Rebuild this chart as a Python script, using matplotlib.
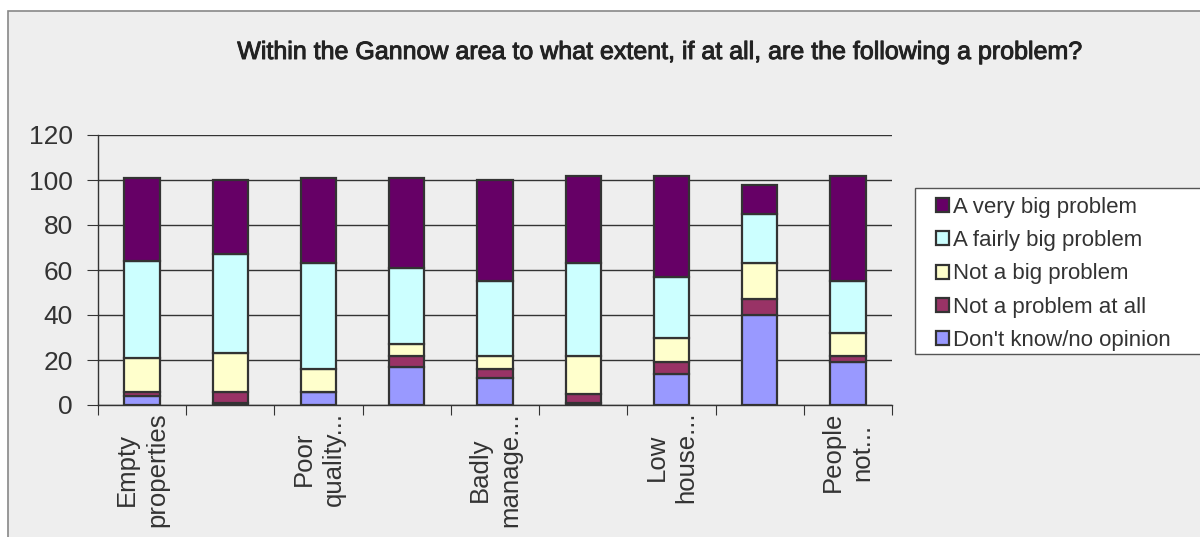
import matplotlib
matplotlib.use('Agg')
import matplotlib.pyplot as plt
import matplotlib.patheffects as pe
import numpy as np
from matplotlib.patches import Rectangle

plt.rcParams['font.family'] = ['Liberation Sans', 'DejaVu Sans']

categories = ['Empty\nproperties', '', 'Poor\nquality...', '', 'Badly\nmanage...',
              '', 'Low\nhouse...', '', 'People\nnot...']
dont_know = [4, 1, 6, 17, 12, 1, 14, 40, 19]
not_at_all = [2, 5, 0, 5, 4, 4, 5, 7, 3]
not_big = [15, 17, 10, 5, 6, 17, 11, 16, 10]
fairly_big = [43, 44, 47, 34, 33, 41, 27, 22, 23]
very_big = [37, 33, 38, 40, 45, 39, 45, 13, 47]

series = [
    ('Don\'t know/no opinion', dont_know, '#9999ff'),
    ('Not a problem at all', not_at_all, '#993366'),
    ('Not a big problem', not_big, '#ffffcc'),
    ('A fairly big problem', fairly_big, '#ccffff'),
    ('A very big problem', very_big, '#660066'),
]

fig = plt.figure(figsize=(12, 5.37), dpi=100, facecolor='white')
fig.patches.append(Rectangle((8 / 1200, -0.01), 1.0, 1 - 11 / 537 + 0.01,
                             transform=fig.transFigure, facecolor='#eeeeee',
                             edgecolor='#888888', linewidth=1.2, zorder=-1))
ax = fig.add_axes([98 / 1200, 1 - 405 / 537, (892 - 98) / 1200, 270 / 537])
ax.set_facecolor('#eeeeee')

x = np.arange(len(categories))
bottom = np.zeros(len(categories))
handles = []
for name, vals, color in series:
    b = ax.bar(x, vals, 0.4, bottom=bottom, color=color, edgecolor='#333333',
               linewidth=1.6, label=name, zorder=3)
    handles.append(b)
    bottom += np.array(vals)

ax.set_ylim(0, 120)
ax.set_xlim(-0.5, len(categories) - 0.5)
ax.set_yticks(np.arange(0, 121, 20))
ax.yaxis.grid(True, color='#333333', linewidth=1.0, zorder=0)
ax.set_axisbelow(True)
for s in ['top', 'right']:
    ax.spines[s].set_visible(False)
for s in ['left', 'bottom']:
    ax.spines[s].set_color('#333333')
    ax.spines[s].set_linewidth(1.0)

ax.set_xticks(np.arange(-0.5, len(categories), 1.0))
ax.set_xticklabels([])
ax.set_xticks(x, minor=True)
ax.set_xticklabels(categories, minor=True, rotation=90, fontsize=18.5,
                   color='#333333', va='top', ha='center', linespacing=1.3)
ax.tick_params(axis='x', which='minor', length=0, pad=5)
ax.tick_params(axis='x', which='major', length=7, color='#333333', direction='out')
ax.tick_params(axis='y', length=8, color='#333333', labelsize=19,
               labelcolor='#333333', pad=10)

title = fig.text(0.5496, 1 - 52 / 537,
                 'Within the Gannow area to what extent, if at all, are the following a problem?',
                 ha='center', va='center', fontsize=18, color='#222222')
title.set_path_effects([pe.withStroke(linewidth=0.7, foreground='#222222')])

# legend box drawn separately so the inner padding can match
fig.patches.append(Rectangle((915 / 1200, 1 - 354 / 537), 1.0, 166 / 537,
                             transform=fig.transFigure, facecolor='white',
                             edgecolor='#555555', linewidth=1.0, zorder=1))
leg = fig.legend(handles[::-1], [s[0] for s in series][::-1],
                 loc='upper left', bbox_to_anchor=(936 / 1200, 1 - 197 / 537),
                 fontsize=16, frameon=False,
                 handlelength=0.6, handleheight=0.6, handletextpad=0.15,
                 labelspacing=0.55, borderpad=0, borderaxespad=0)
for t in leg.get_texts():
    t.set_color('#333333')

fig.savefig('out.png', dpi=100, facecolor='white')
